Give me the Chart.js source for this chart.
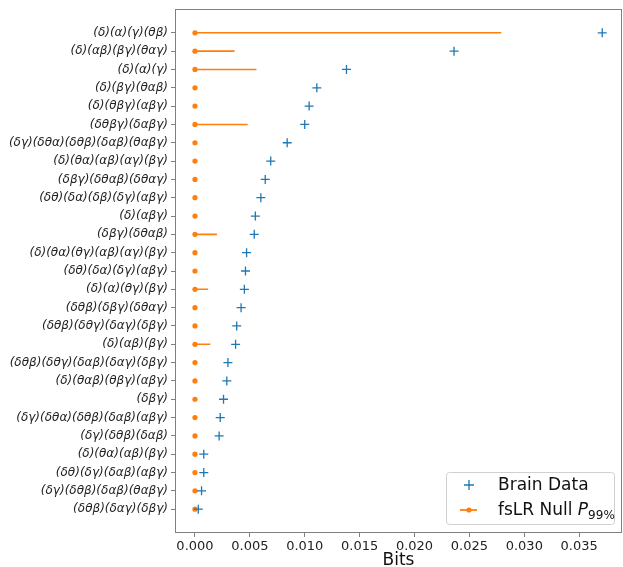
<!DOCTYPE html>
<html>
<head>
<meta charset="utf-8">
<script src="https://cdn.jsdelivr.net/npm/chart.js@4"></script>
<style>
  body { margin: 0; background: #fff; }
</style>
</head>
<body>
<canvas id="grafico" width="623" height="567"></canvas>
<script>
/* Etiquetas de cada partición (de arriba a abajo) */
var particiones = [
  '(δ)(α)(γ)(θβ)', '(δ)(αβ)(βγ)(θαγ)', '(δ)(α)(γ)', '(δ)(βγ)(θαβ)', '(δ)(θβγ)(αβγ)',
  '(δθβγ)(δαβγ)', '(δγ)(δθα)(δθβ)(δαβ)(θαβγ)', '(δ)(θα)(αβ)(αγ)(βγ)', '(δβγ)(δθαβ)(δθαγ)',
  '(δθ)(δα)(δβ)(δγ)(αβγ)', '(δ)(αβγ)', '(δβγ)(δθαβ)', '(δ)(θα)(θγ)(αβ)(αγ)(βγ)',
  '(δθ)(δα)(δγ)(αβγ)', '(δ)(α)(θγ)(βγ)', '(δθβ)(δβγ)(δθαγ)', '(δθβ)(δθγ)(δαγ)(δβγ)',
  '(δ)(αβ)(βγ)', '(δθβ)(δθγ)(δαβ)(δαγ)(δβγ)', '(δ)(θαβ)(θβγ)(αβγ)', '(δβγ)',
  '(δγ)(δθα)(δθβ)(δαβ)(αβγ)', '(δγ)(δθβ)(δαβ)', '(δ)(θα)(αβ)(βγ)', '(δθ)(δγ)(δαβ)(αβγ)',
  '(δγ)(δθβ)(δαβ)(θαβγ)', '(δθβ)(δαγ)(δβγ)'
];

/* Valores de los datos cerebrales (bits) */
var brainData = [
  0.0371, 0.0236, 0.0138, 0.0111, 0.0104, 0.0100, 0.0084, 0.0069, 0.0064,
  0.0060, 0.0055, 0.0054, 0.0047, 0.0046, 0.0045, 0.0042, 0.0038, 0.0037,
  0.0030, 0.0029, 0.0026, 0.0023, 0.0022, 0.0008, 0.0008, 0.0006, 0.0003
];

/* Percentil 99 del nulo fsLR */
var nullP99 = [
  0.0279, 0.0036, 0.0056, 0, 0, 0.0048, 0, 0, 0,
  0, 0, 0.0020, 0, 0, 0.0012, 0, 0, 0.0014,
  0, 0, 0, 0, 0, 0, 0, 0, 0
];

var xTicks = [0, 0.005, 0.010, 0.015, 0.020, 0.025, 0.030, 0.035];

var azul = '#1f77b4';
var naranja = '#ff7f0e';
var gris = '#808080';

/* Puntos para el gráfico */
var puntosBrain = brainData.map(function (v, i) { return { x: v, y: i }; });
var puntosNull = [];
nullP99.forEach(function (v, i) {
  puntosNull.push({ x: 0, y: i });
  puntosNull.push({ x: v, y: i });
  puntosNull.push({ x: null, y: null });
});

/* Marco y leyenda dibujados a mano */
var marcoPlugin = {
  id: 'marco',
  afterDraw: function (chart) {
    var ctx = chart.ctx;
    var a = chart.chartArea;
    ctx.save();
    ctx.strokeStyle = gris;
    ctx.lineWidth = 1;
    ctx.strokeRect(a.left + 0.5, a.top + 0.5, a.right - a.left - 1, a.bottom - a.top - 1);

    // leyenda
    var w = 168, h = 52;
    var x0 = a.right - 8 - w, y0 = a.bottom - 9 - h;
    ctx.fillStyle = 'rgba(255,255,255,0.8)';
    ctx.strokeStyle = '#d0d0d0';
    ctx.beginPath();
    ctx.roundRect(x0 + 0.5, y0 + 0.5, w, h, 3);
    ctx.fill();
    ctx.stroke();

    var ix = x0 + 23, y1 = y0 + 13, y2 = y0 + 38;
    // cruz
    ctx.strokeStyle = azul;
    ctx.lineWidth = 1.3;
    ctx.beginPath();
    ctx.moveTo(ix - 5, y1); ctx.lineTo(ix + 5, y1);
    ctx.moveTo(ix, y1 - 5); ctx.lineTo(ix, y1 + 5);
    ctx.stroke();
    // linea + punto
    ctx.strokeStyle = naranja;
    ctx.lineWidth = 1.8;
    ctx.beginPath();
    ctx.moveTo(ix - 9, y2); ctx.lineTo(ix + 8, y2);
    ctx.stroke();
    ctx.fillStyle = naranja;
    ctx.beginPath();
    ctx.arc(ix, y2, 2.6, 0, Math.PI * 2);
    ctx.fill();

    ctx.fillStyle = '#111';
    ctx.textBaseline = 'middle';
    ctx.font = '17px "DejaVu Sans"';
    ctx.fillText('Brain Data', x0 + 52, y1 + 1);
    var t = 'fsLR Null ';
    ctx.fillText(t, x0 + 52, y2 + 1);
    var tx = x0 + 52 + ctx.measureText(t).width;
    ctx.font = 'italic 17px "DejaVu Sans"';
    ctx.fillText('P', tx, y2 + 1);
    tx += ctx.measureText('P').width;
    ctx.font = '12px "DejaVu Sans"';
    ctx.fillText('99%', tx, y2 + 6);
    ctx.restore();
  }
};

var marco = document.getElementById('grafico').getContext('2d');

var grafico = new Chart(marco, {
  type: 'scatter',
  data: {
    datasets: [
      {
        label: 'Brain Data',
        data: puntosBrain,
        pointStyle: 'cross',
        pointRadius: 4.5,
        pointBorderWidth: 1.3,
        borderColor: azul,
        backgroundColor: azul
      },
      {
        label: 'fsLR Null P99%',
        data: puntosNull,
        showLine: true,
        spanGaps: false,
        borderColor: naranja,
        backgroundColor: naranja,
        borderWidth: 1.6,
        pointRadius: function (c) { return c.dataIndex % 3 === 0 ? 2.6 : 0; },
        pointBorderWidth: 0
      }
    ]
  },
  options: {
    responsive: false,
    animation: false,
    events: [],
    layout: { autoPadding: false, padding: { top: 9, right: 1, bottom: 0, left: 0 } },
    plugins: {
      legend: { display: false },
      tooltip: { enabled: false }
    },
    scales: {
      x: {
        type: 'linear',
        min: -0.00182,
        max: 0.0389,
        afterBuildTicks: function (s) { s.ticks = xTicks.map(function (v) { return { value: v }; }); },
        afterFit: function (s) { s.height = 34; s.paddingLeft = 0; s.paddingRight = 0; },
        grid: { display: true, drawOnChartArea: false, drawTicks: true, tickLength: 4, color: gris },
        border: { display: false },
        ticks: {
          padding: 2,
          color: '#222',
          font: { family: 'DejaVu Sans', size: 13 },
          callback: function (v) { return v.toFixed(3); }
        },
        title: {
          display: true,
          text: 'Bits',
          color: '#111',
          padding: { top: 0, bottom: -2 },
          font: { family: 'DejaVu Sans', size: 17, lineHeight: 1 }
        }
      },
      y: {
        type: 'linear',
        reverse: true,
        min: -1.3,
        max: 27.3,
        afterBuildTicks: function (s) { s.ticks = particiones.map(function (p, i) { return { value: i }; }); },
        afterFit: function (s) { s.width = 175; s.paddingTop = 0; s.paddingBottom = 0; },
        grid: { display: true, drawOnChartArea: false, drawTicks: true, tickLength: 4, color: gris },
        border: { display: false },
        ticks: {
          padding: 3,
          color: '#222',
          autoSkip: false,
          font: { family: 'DejaVu Sans', size: 12, style: 'italic' },
          callback: function (v) { return particiones[v]; }
        }
      }
    }
  },
  plugins: [marcoPlugin]
});
</script>
</body>
</html>
